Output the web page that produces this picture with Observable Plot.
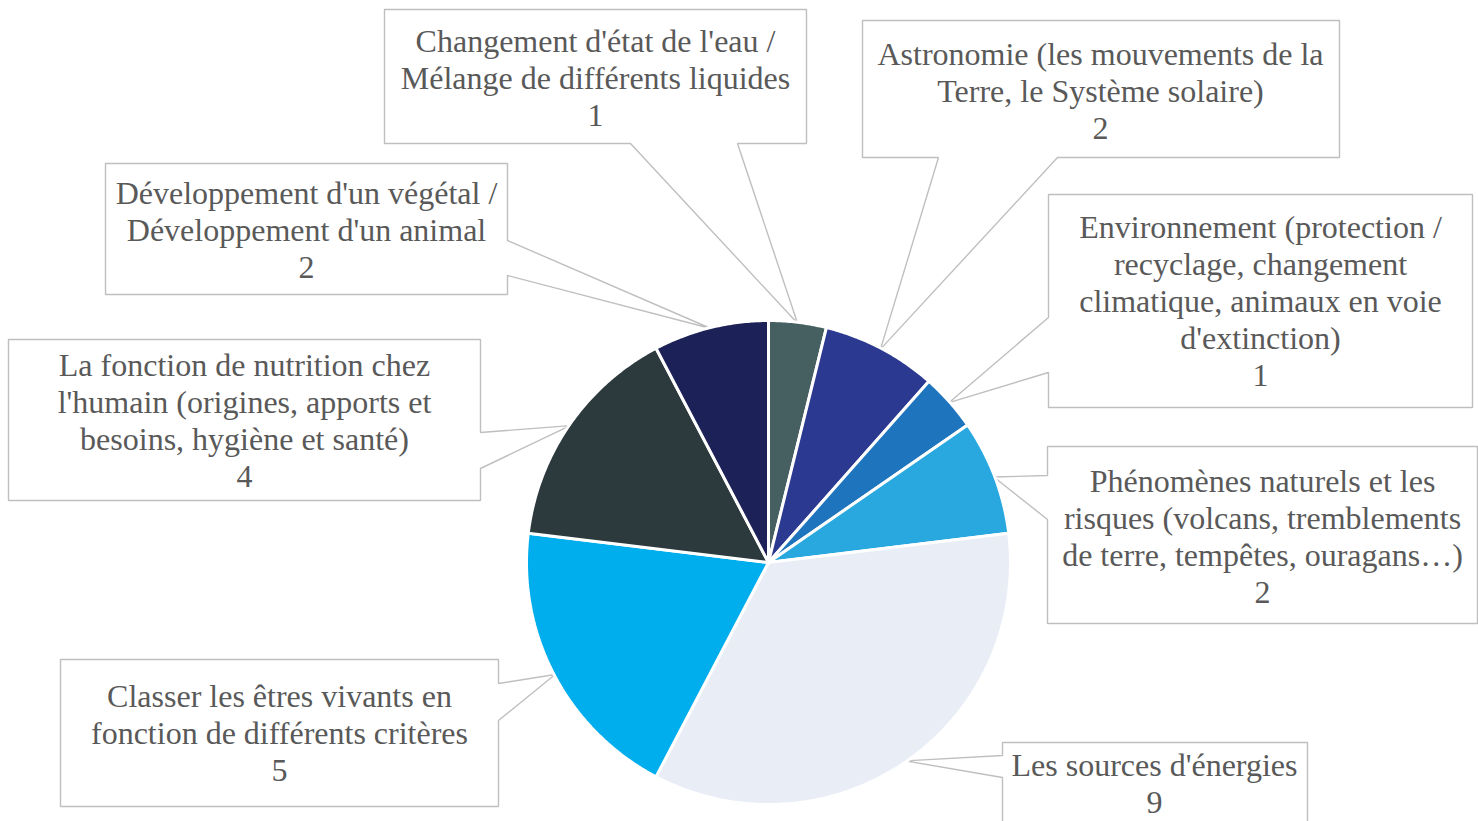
<!DOCTYPE html>
<html>
<head>
<meta charset="utf-8">
<script src="https://cdn.jsdelivr.net/npm/d3@7"></script>
<script src="https://cdn.jsdelivr.net/npm/@observablehq/plot@0.6"></script>
<style>
  html, body { margin: 0; padding: 0; background: #ffffff; overflow: hidden; }
  #chart { width: 1478px; height: 821px; }
</style>
</head>
<body>
<div id="chart"></div>
<script>
// ---- Data ----
const categories = [
  "Changement d'état de l'eau /\nMélange de différents liquides",
  "Astronomie (les mouvements de la\nTerre, le Système solaire)",
  "Environnement (protection /\nrecyclage, changement\nclimatique, animaux en voie\nd'extinction)",
  "Phénomènes naturels et les\nrisques (volcans, tremblements\nde terre, tempêtes, ouragans…)",
  "Les sources d'énergies",
  "Classer les êtres vivants en\nfonction de différents critères",
  "La fonction de nutrition chez\nl'humain (origines, apports et\nbesoins, hygiène et santé)",
  "Développement d'un végétal /\nDéveloppement d'un animal"
];
const values = [1, 2, 1, 2, 9, 5, 4, 2];
const colors = ["#465f60", "#2c3990", "#1f75bd", "#29a8e0", "#e9eef6", "#00aeed", "#2d3a3d", "#1c2157"];

// ---- Layout (callout boxes, pixel units) ----
const pie = {cx: 768, cy: 562, r: 242};
const callouts = [
  {x1: 384, y1: 9,   x2: 806,  y2: 143, side: "bottom", w1: 630, w2: 737, tx: 595,  ty: 77},
  {x1: 862, y1: 20,  x2: 1339, y2: 157, side: "bottom", w1: 938, w2: 1057, tx: 1100, ty: 90},
  {x1: 1048, y1: 194, x2: 1472, y2: 407, side: "left",  w1: 317, w2: 372, tx: 1260, ty: 300},
  {x1: 1047, y1: 446, x2: 1477, y2: 623, side: "left",  w1: 475, w2: 519, tx: 1262, ty: 535},
  {x1: 1002, y1: 742, x2: 1307, y2: 840, side: "left",  w1: 755, w2: 777, tx: 1154, ty: 782.5},
  {x1: 60,  y1: 659, x2: 498,  y2: 806, side: "right", w1: 683, w2: 720, tx: 279,  ty: 732},
  {x1: 8,   y1: 339, x2: 480,  y2: 500, side: "right", w1: 432, w2: 468, tx: 244,  ty: 419.5},
  {x1: 105, y1: 163, x2: 507,  y2: 294, side: "right", w1: 240, w2: 275, tx: 306,  ty: 229}
];

// ---- Build slices from values ----
const total = d3.sum(values);
let acc = 0;
const slices = values.map((v, i) => {
  const a0 = acc / total * 2 * Math.PI;
  acc += v;
  const a1 = acc / total * 2 * Math.PI;
  return {i, name: categories[i], value: v, a0, a1, mid: (a0 + a1) / 2};
});
const pt = (a, r) => ({x: pie.cx + r * Math.sin(a), y: pie.cy - r * Math.cos(a)});

function slicePolygon(s) {
  const pts = [{x: pie.cx, y: pie.cy}];
  const n = Math.max(4, Math.ceil((s.a1 - s.a0) / (Math.PI / 360)));
  for (let k = 0; k <= n; k++) pts.push(pt(s.a0 + (s.a1 - s.a0) * k / n, pie.r));
  pts.push({x: pie.cx, y: pie.cy});
  return pts;
}

function calloutPolygon(c, tip) {
  const {x1, y1, x2, y2, side, w1, w2} = c;
  const p = [{x: x1, y: y1}, {x: x2, y: y1}];
  if (side === "right") p.push({x: x2, y: w1}, tip, {x: x2, y: w2});
  p.push({x: x2, y: y2});
  if (side === "bottom") p.push({x: w2, y: y2}, tip, {x: w1, y: y2});
  p.push({x: x1, y: y2});
  if (side === "left") p.push({x: x1, y: w2}, tip, {x: x1, y: w1});
  p.push({x: x1, y: y1});
  return p;
}

const marks = [];
// callouts (boxes + wedges)
slices.forEach((s, i) => {
  const tip = pt(s.mid, pie.r - 1);
  marks.push(Plot.line(calloutPolygon(callouts[i], tip), {
    x: "x", y: "y", fill: "white", stroke: "#bfbfbf", strokeWidth: 1.4,
    strokeLinejoin: "miter", clip: true
  }));
});
// pie slices
slices.forEach((s) => {
  marks.push(Plot.line(slicePolygon(s), {
    x: "x", y: "y", fill: colors[s.i], stroke: "white", strokeWidth: 3,
    strokeLinejoin: "miter"
  }));
});
// labels
const labelData = slices.map((s, i) => ({
  x: callouts[i].tx, y: callouts[i].ty, text: s.name + "\n" + s.value
}));
marks.push(Plot.text(labelData, {
  x: "x", y: "y", text: "text", textAnchor: "middle", lineAnchor: "middle",
  lineHeight: 1.156, fontSize: 32, fontFamily: "Liberation Serif, 'Times New Roman', serif",
  fill: "#595959"
}));

const chart = Plot.plot({
  width: 1478,
  height: 821,
  margin: 0,
  x: {domain: [0, 1478], range: [0, 1478], axis: null},
  y: {domain: [0, 821], range: [0, 821], axis: null},
  style: {background: "white"},
  marks
});
document.getElementById("chart").appendChild(chart);
</script>
</body>
</html>
